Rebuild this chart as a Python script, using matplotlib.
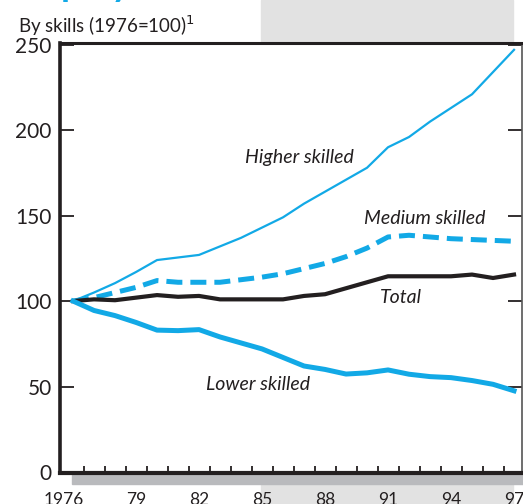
import matplotlib
matplotlib.use("Agg")
import matplotlib.pyplot as plt
import matplotlib.transforms as mtransforms
from matplotlib.patches import Rectangle
from matplotlib.ticker import FixedLocator

years = list(range(1976, 1998))
higher = [100, 105, 110.5, 117, 124, 125.5, 127, 132, 137, 143, 149, 157, 164, 171, 178, 190, 196, 205, 213, 221, 234, 247]
medium = [100, 102, 105, 108, 112, 111, 111, 111, 112.5, 114, 116, 119, 122, 126, 131, 137.5, 138.5, 137.5, 136.5, 136, 135.5, 135]
total = [100, 101, 100.5, 102, 103.5, 102.5, 103, 101, 101, 101, 101, 103, 104, 107.5, 111, 114.5, 114.5, 114.5, 114.5, 115.5, 113.5, 115.5]
lower = [100, 94.5, 91.5, 87.5, 83, 82.7, 83.3, 79, 75.5, 72, 67, 62, 60, 57.3, 58, 59.7, 57.2, 55.8, 55.2, 53.5, 51.3, 47.5]

xtick_pos = [1976, 1979, 1982, 1985, 1988, 1991, 1994, 1997]
xtick_labels = ["1976", "79", "82", "85", "88", "91", "94", "97"]
ytick_pos = [0, 50, 100, 150, 200, 250]
minor_x = [y + 0.5 for y in range(1976, 1997)]

BLUE = "#12a9e6"
DARK = "#231f20"

plt.rcParams['font.family'] = ['Lato', 'DejaVu Sans']

W, H = 523, 504
fig = plt.figure(figsize=(W / 100, H / 100), dpi=100)
fig.patch.set_facecolor("white")

# background page decorations
for (x0, y0, w, h, c) in [(261, 0, 252, 43, "#e2e2e2"),
                          (261, 484, 252, 20, "#e2e2e2"),
                          (72, 474, 451, 10, "#b9babd")]:
    r = Rectangle((x0 / W, 1 - (y0 + h) / H), w / W, h / H,
                  transform=fig.transFigure, color=c, zorder=-5)
    fig.add_artist(r)

ax = fig.add_axes([60 / W, 1 - 473 / H, (522 - 60) / W, (473 - 43) / H])
ax.set_facecolor("white")

ax.plot(years, higher, color=BLUE, lw=1.6, solid_joinstyle='round')
ax.plot(years, medium, color=BLUE, lw=3.6, dashes=(3.2, 1.6))
ax.plot(years, total, color=DARK, lw=3.0, solid_joinstyle='round')
ax.plot(years, lower, color=BLUE, lw=3.6, solid_joinstyle='round')

ax.set_xlim(1975.38, 1997.38)
ax.set_ylim(-0.6, 251)

ax.set_xticks(xtick_pos)
ax.set_xticklabels(xtick_labels, fontsize=12.5, color=DARK)
ax.tick_params(axis='x', which='major', length=0, pad=14)
ax.xaxis.set_minor_locator(FixedLocator(minor_x))
ax.tick_params(axis='x', which='minor', direction='in', length=5, width=1.3, color=DARK)

# first year label sits slightly left of its position
first = ax.get_xticklabels()[0]
first.set_transform(first.get_transform() +
                    mtransforms.ScaledTranslation(-0.09, 0, fig.dpi_scale_trans))

ax.set_yticks(ytick_pos)
ax.set_yticklabels([str(v) for v in ytick_pos], fontsize=15, color=DARK)
ax.tick_params(axis='y', which='major', direction='in', length=10, width=1.3,
               color=DARK, right=True, pad=6)

for side, lw, col in [("left", 2.6, DARK), ("bottom", 3.0, DARK),
                      ("top", 2.2, DARK), ("right", 1.2, "#555555")]:
    ax.spines[side].set_linewidth(lw)
    ax.spines[side].set_color(col)

lab = dict(style='italic', fontsize=14, color=DARK, ha='center', va='center')
ax.text(1986.8, 184, "Higher skilled", **lab)
ax.text(1992.75, 148.5, "Medium skilled", **lab)
ax.text(1991.6, 102, "Total", **lab)
ax.text(1984.8, 51, "Lower skilled", **lab)

fig.text(18 / W, 1 - 26 / H, r"By skills (1976=100)$^{1}$", fontsize=13.5, color=DARK, ha='left', va='center')
fig.text(10 / W, 1 + 4 / H, "Employment", fontsize=26, fontweight='bold', color=BLUE, ha='left', va='baseline')

fig.savefig("out.png", dpi=100, facecolor="white")
